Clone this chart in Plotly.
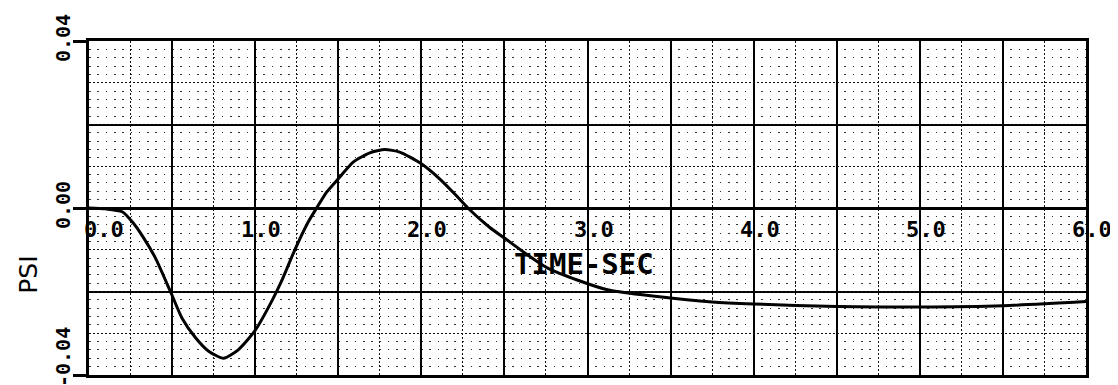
import plotly.graph_objects as go

# ---- data ----
time_sec = [0.0, 0.1, 0.2, 0.26, 0.32, 0.4, 0.49, 0.56, 0.64, 0.72, 0.81, 0.9, 1.0,
            1.1, 1.16, 1.24, 1.32, 1.37, 1.43, 1.5, 1.59, 1.69, 1.78, 1.87, 2.0,
            2.11, 2.21, 2.28, 2.41, 2.5, 2.76, 3.12, 3.42, 3.75, 4.0, 4.5, 5.0, 5.5, 6.0]
psi = [0.0, -0.0002, -0.0009, -0.0033, -0.0066, -0.012, -0.02, -0.0264, -0.031,
       -0.0343, -0.036, -0.0339, -0.0293, -0.0223, -0.0174, -0.0099, -0.0033, 0.0,
       0.0038, 0.007, 0.011, 0.0132, 0.014, 0.0134, 0.0106, 0.007, 0.003, 0.0,
       -0.0046, -0.0072, -0.0144, -0.0196, -0.0212, -0.0225, -0.023, -0.0236,
       -0.0237, -0.0234, -0.0224]

x_tick_vals = [0, 1, 2, 3, 4, 5, 6]
x_tick_text = ["0.0", "1.0", "2.0", "3.0", "4.0", "5.0", "6.0"]
y_tick_vals = [-0.04, 0.0, 0.04]
y_tick_text = ["-0.04", "0.00", "0.04"]
y_minor_major = [-0.02, 0.02]

MONO = "DejaVu Sans Mono"

fig = go.Figure()
fig.add_trace(go.Scatter(x=time_sec, y=psi, mode="lines", yaxis="y2",
                         line=dict(color="black", width=3, shape="spline", smoothing=0.6),
                         hoverinfo="skip", showlegend=False))

fig.update_layout(
    width=1118, height=385,
    margin=dict(l=81, r=40, t=33, b=18),
    paper_bgcolor="white", plot_bgcolor="white",
    showlegend=False,
    xaxis=dict(range=[0, 6], dtick=0.5, tick0=0,
               showgrid=True, gridcolor="black", gridwidth=1.6,
               minor=dict(dtick=0.25, tick0=0, showgrid=True, gridcolor="#111",
                          gridwidth=1, griddash="2px,2px", ticks=""),
               showticklabels=False, ticks="", zeroline=False,
               showline=True, mirror=True, linecolor="black", linewidth=2.5),
    yaxis=dict(range=[-0.04, 0.04], tickmode="array", tickvals=y_tick_vals,
               showticklabels=False,
               ticks="outside", ticklen=13, tickwidth=2.5, tickcolor="black",
               showgrid=True, gridcolor="black", gridwidth=1.6,
               minor=dict(tickmode="array", tickvals=y_minor_major, showgrid=True,
                          gridcolor="black", gridwidth=1.6, ticks=""),
               zeroline=True, zerolinecolor="black", zerolinewidth=3,
               showline=True, mirror=True, linecolor="black", linewidth=2.5),
    yaxis2=dict(range=[-0.04, 0.04], overlaying="y", anchor="x", side="left",
                dtick=0.01, tick0=0, showgrid=True, gridcolor="#111", gridwidth=1,
                griddash="2px,2px",
                minor=dict(dtick=0.002, tick0=0, showgrid=True, gridcolor="#333",
                           gridwidth=1.3, griddash="1.6px,6.7px", ticks=""),
                showticklabels=False, ticks="", zeroline=False, showline=False),
)

# y tick labels (rotated, plotter style, drawn left of the axis)
y_label_shift = {-0.04: 18, 0.0: 3, 0.04: 3}
for v, t in zip(y_tick_vals, y_tick_text):
    fig.add_annotation(x=0, y=v, xref="paper", yref="y", text=t, showarrow=False,
                       textangle=-90, xanchor="center", yanchor="middle",
                       xshift=-26, yshift=y_label_shift[v],
                       font=dict(family=MONO, size=20, color="black", weight="bold"))

# x tick labels sit just under the zero line
for v, t in zip(x_tick_vals, x_tick_text):
    fig.add_annotation(x=v, y=0, xref="x", yref="y", text=t, showarrow=False,
                       xanchor="center", yanchor="middle",
                       xshift=15 if v == 0 else 6, yshift=-21,
                       font=dict(family=MONO, size=22, color="black", weight="bold"))

# axis titles
fig.add_annotation(x=2.98, y=-0.0134, xref="x", yref="y", text="TIME-SEC",
                   showarrow=False, xanchor="center", yanchor="middle",
                   font=dict(family=MONO, size=29, color="black", weight="bold"))
fig.add_annotation(x=0, y=0.3, xref="paper", yref="paper", text="PSI",
                   showarrow=False, textangle=-90, xanchor="center", yanchor="middle",
                   xshift=-60,
                   font=dict(family="DejaVu Sans", size=25, color="black"))

fig.write_html("out.html")
